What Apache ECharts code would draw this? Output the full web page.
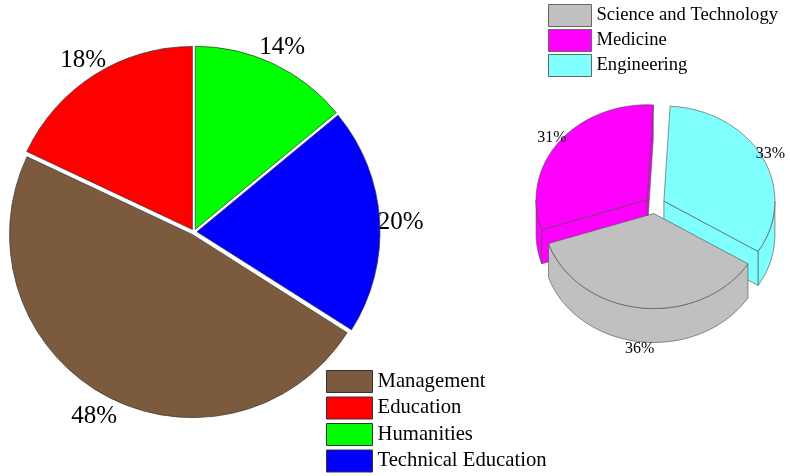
<!DOCTYPE html>
<html>
<head>
<meta charset="utf-8">
<script src="https://cdn.jsdelivr.net/npm/echarts@6/dist/echarts.min.js"></script>
<style>
  html, body { margin: 0; padding: 0; background: #fff; }
  #chart { width: 790px; height: 476px; }
</style>
</head>
<body>
<div id="chart"></div>
<script>
// left pie: fields of study
const mainCats = ['Management', 'Education', 'Humanities', 'Technical Education'];
const mainValues = [48, 18, 14, 20];
const mainColors = ['#7b5a3e', '#ff0000', '#00ff00', '#0000ff'];

// right 3d pie
const fieldCats = ['Science and Technology', 'Medicine', 'Engineering'];
const fieldValues = [36, 31, 33];
const fieldColors = ['#c0c0c0', '#ff00ff', '#80ffff'];

const serif = '"Liberation Serif", "Times New Roman", serif';

// 3d pie layout
const pie3d = { cx: 655, cy: 205, rx: 111, ry: 95, depth: 34, explode: 10, startDeg: 32 };

const chart = echarts.init(document.getElementById('chart'));

const mainData = mainCats.map((name, i) => ({
  name: name,
  value: mainValues[i],
  selected: true,
  itemStyle: { color: mainColors[i] }
}));

function slice3d(idx) {
  return function (params, api) {
    const total = fieldValues.reduce((a, b) => a + b, 0);
    let startDeg = pie3d.startDeg;
    for (let j = 0; j < idx; j++) startDeg += fieldValues[j] / total * 360;
    const endDeg = startDeg + api.value(0) / total * 360;
    const s = startDeg * Math.PI / 180;
    const e = endDeg * Math.PI / 180;
    const m = (s + e) / 2;
    const cx = pie3d.cx + pie3d.explode * Math.cos(m);
    const cy = pie3d.cy + pie3d.explode * Math.sin(m) * pie3d.ry / pie3d.rx;
    const h = pie3d.depth;
    const pt = (t, dy) => [cx + pie3d.rx * Math.cos(t), cy + pie3d.ry * Math.sin(t) + dy];
    const arc = (a0, a1, dy) => {
      const out = [];
      const n = Math.max(2, Math.ceil(Math.abs(a1 - a0) / 0.03));
      for (let k = 0; k <= n; k++) out.push(pt(a0 + (a1 - a0) * k / n, dy));
      return out;
    };
    const color = fieldColors[idx];
    const line = { fill: color, stroke: '#4a4a4a', lineWidth: 0.6 };
    const children = [];

    // outer wall, only the front half is seen
    [[0, Math.PI], [2 * Math.PI, 3 * Math.PI]].forEach(r => {
      const a0 = Math.max(s, r[0]);
      const a1 = Math.min(e, r[1]);
      if (a1 > a0) {
        const pts = arc(a0, a1, 0).concat(arc(a1, a0, h));
        children.push({ type: 'polygon', shape: { points: pts }, style: line });
      }
    });
    // cut faces
    if (Math.cos(s) < 0) {
      children.push({ type: 'polygon', shape: { points: [[cx, cy], pt(s, 0), pt(s, h), [cx, cy + h]] }, style: line });
    }
    if (Math.cos(e) > 0) {
      children.push({ type: 'polygon', shape: { points: [[cx, cy], pt(e, 0), pt(e, h), [cx, cy + h]] }, style: line });
    }
    // top
    children.push({ type: 'polygon', shape: { points: [[cx, cy]].concat(arc(s, e, 0)) }, style: line });

    // label
    const lx = cx + pie3d.rx * 1.08 * Math.cos(m);
    const ly = cy + pie3d.ry * 1.08 * Math.sin(m) + h * Math.max(0, Math.sin(m));
    children.push({
      type: 'text',
      style: {
        text: api.value(0) + '%', x: lx, y: ly,
        align: 'center', verticalAlign: 'middle',
        fontSize: 16, fontFamily: serif, fill: '#000'
      }
    });
    return { type: 'group', children: children };
  };
}

const option = {
  animation: false,
  backgroundColor: '#fff',
  legend: [
    {
      data: mainCats,
      orient: 'vertical',
      left: 326,
      top: 370,
      padding: 0,
      itemWidth: 46,
      itemHeight: 22,
      itemGap: 3.5,
      icon: 'rect',
      selectedMode: false,
      itemStyle: { borderColor: '#333', borderWidth: 1 },
      textStyle: { fontSize: 20.7, fontFamily: serif, color: '#000' }
    },
    {
      data: fieldCats,
      orient: 'vertical',
      left: 548,
      top: 4,
      padding: 0,
      itemWidth: 43,
      itemHeight: 22,
      itemGap: 2,
      icon: 'rect',
      selectedMode: false,
      itemStyle: { borderColor: '#666', borderWidth: 1 },
      textStyle: { fontSize: 18.6, fontFamily: serif, color: '#000' }
    }
  ],
  series: [
    {
      type: 'pie',
      center: [194, 232],
      radius: 183,
      startAngle: 327.6,
      clockwise: true,
      selectedMode: 'multiple',
      selectedOffset: 3,
      silent: true,
      itemStyle: { borderColor: '#333', borderWidth: 0.7 },
      select: { itemStyle: { borderColor: '#333', borderWidth: 0.7 } },
      label: { show: false },
      labelLine: { show: false },
      data: mainData
    },
    {
      // invisible ring that carries the percentage labels
      type: 'pie',
      center: [194, 235],
      radius: [193, 215],
      startAngle: 327.6,
      clockwise: true,
      silent: true,
      legendHoverLink: false,
      itemStyle: { color: 'rgba(0,0,0,0)', borderWidth: 0 },
      label: {
        show: true,
        position: 'inside',
        formatter: '{c}%',
        fontSize: 25,
        fontFamily: serif,
        color: '#000'
      },
      labelLine: { show: false },
      data: mainCats.map((name, i) => ({ name: name, value: mainValues[i] }))
    }
  ].concat(fieldCats.map((name, i) => ({
    type: 'custom',
    name: name,
    coordinateSystem: 'none',
    silent: true,
    itemStyle: { color: fieldColors[i] },
    renderItem: slice3d(i),
    data: [[fieldValues[i]]]
  })))
};

// draw back slices first so the front one sits on top
option.series = option.series.slice(0, 2).concat([option.series[3], option.series[4], option.series[2]]);

chart.setOption(option);
</script>
</body>
</html>
